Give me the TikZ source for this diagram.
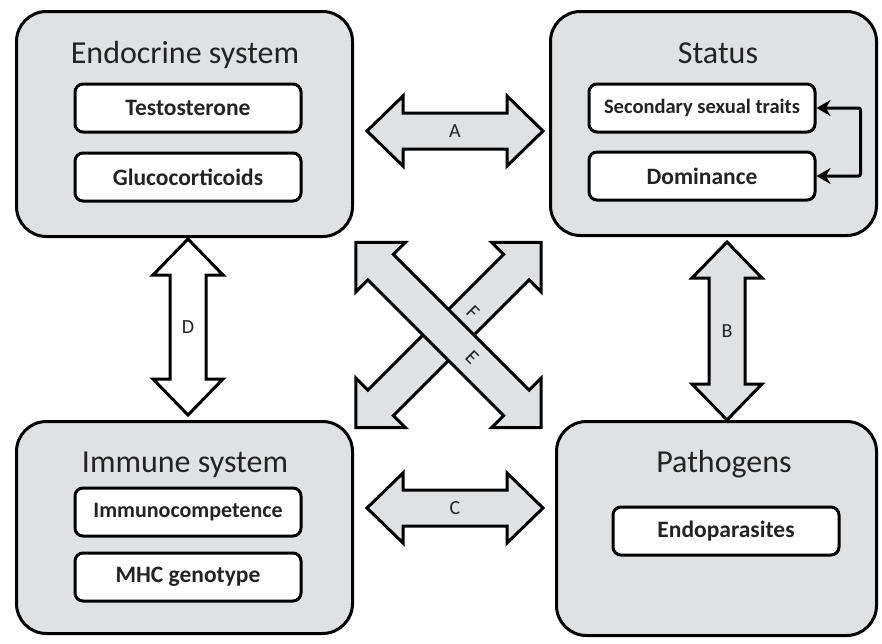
\documentclass[tikz,border=0pt]{standalone}
\usepackage{fontspec}
\setmainfont{Carlito}
\usetikzlibrary{arrows.meta}
\definecolor{boxgrey}{RGB}{224,225,227}
\definecolor{ink}{RGB}{35,35,35}

\begin{document}
\begin{tikzpicture}[x=1pt,y=-1pt,
  bigbox/.style={draw, line width=3pt, fill=boxgrey, rounded corners=30pt},
  itembox/.style={draw, line width=3pt, fill=white, rounded corners=8pt,
    minimum width=226pt, minimum height=48pt, text=ink,
    font=\bfseries\fontsize{23.5}{25}\selectfont},
  title/.style={anchor=base, text=ink, font=\fontsize{32}{34}\selectfont},
  blockarrow/.style={draw, line width=3pt, line join=miter, fill=#1},
  arrowlabel/.style={text=ink, font=\fontsize{20}{22}\selectfont}]
\useasboundingbox (0,0) rectangle (882,643);

% the four systems
\node[bigbox, minimum width=336pt, minimum height=225pt] (endo) at (184.5,124) {};
\node[bigbox, minimum width=326pt, minimum height=224pt] (status) at (713.5,123.5) {};
\node[bigbox, minimum width=336pt, minimum height=212pt] (immune) at (184.5,527.5) {};
\node[bigbox, minimum width=320pt, minimum height=214pt] (patho) at (716.5,528.5) {};

\node[title] (endotitle) at (185,63) {Endocrine system};
\node[title] (statustitle) at (718,63) {Status};
\node[title] (immunetitle) at (185,472) {Immune system};
\node[title] (pathotitle) at (724,472) {Pathogens};

% items
\node[itembox] (testo) at (188,108) {Testosterone};
\node[itembox] (gluco) at (188,177) {Glucocorticoids};
\node[itembox, font=\bfseries\fontsize{20.5}{22}\selectfont] (sexual) at (702,108) {Secondary sexual traits};
\node[itembox, font=\bfseries\fontsize{22}{24}\selectfont] (immuno) at (188,512) {Immunocompetence};
\node[itembox] (domin) at (702,176) {Dominance};
\node[itembox] (mhc) at (188,577) {MHC genotype};
\node[itembox] (endopar) at (726,531) {Endoparasites};

\draw[line width=3pt, rounded corners=2pt, {Stealth[length=14pt,width=16pt]}-{Stealth[length=14pt,width=16pt]}]
  (sexual.east) -- ++(44,0) |- (domin.east);

% block arrows between the systems
\foreach \cx/\cy/\ang/\len/\lab/\col in {455/131/0/88/A/boxgrey, 455/508/0/88/C/boxgrey,
    188/327/90/88/D/white, 727/331/90/89/B/boxgrey}{
  \begin{scope}[shift={(\cx,\cy)}, rotate=\ang]
    \draw[blockarrow=\col] (-\len,0) -- ({36-\len},-35) -- ({36-\len},-18) -- ({\len-36},-18)
      -- ({\len-36},-35) -- (\len,0) -- ({\len-36},35) -- ({\len-36},18) -- ({36-\len},18)
      -- ({36-\len},35) -- cycle;
  \end{scope}
  \node[arrowlabel] (lab\lab) at (\cx,\cy) {\lab};
}

% the cross
\foreach \ang in {45,-45}{
  \begin{scope}[shift={(448.5,335)}, rotate=\ang]
    \draw[blockarrow=boxgrey] (-131,0) -- (-96,-35) -- (-96,-18) -- (96,-18) -- (96,-35)
      -- (131,0) -- (96,35) -- (96,18) -- (-96,18) -- (-96,35) -- cycle;
  \end{scope}
}
\node[arrowlabel, rotate=-45] (labF) at (473,312) {F};
\node[arrowlabel, rotate=-45] (labE) at (472,357) {E};
\end{tikzpicture}
\end{document}
